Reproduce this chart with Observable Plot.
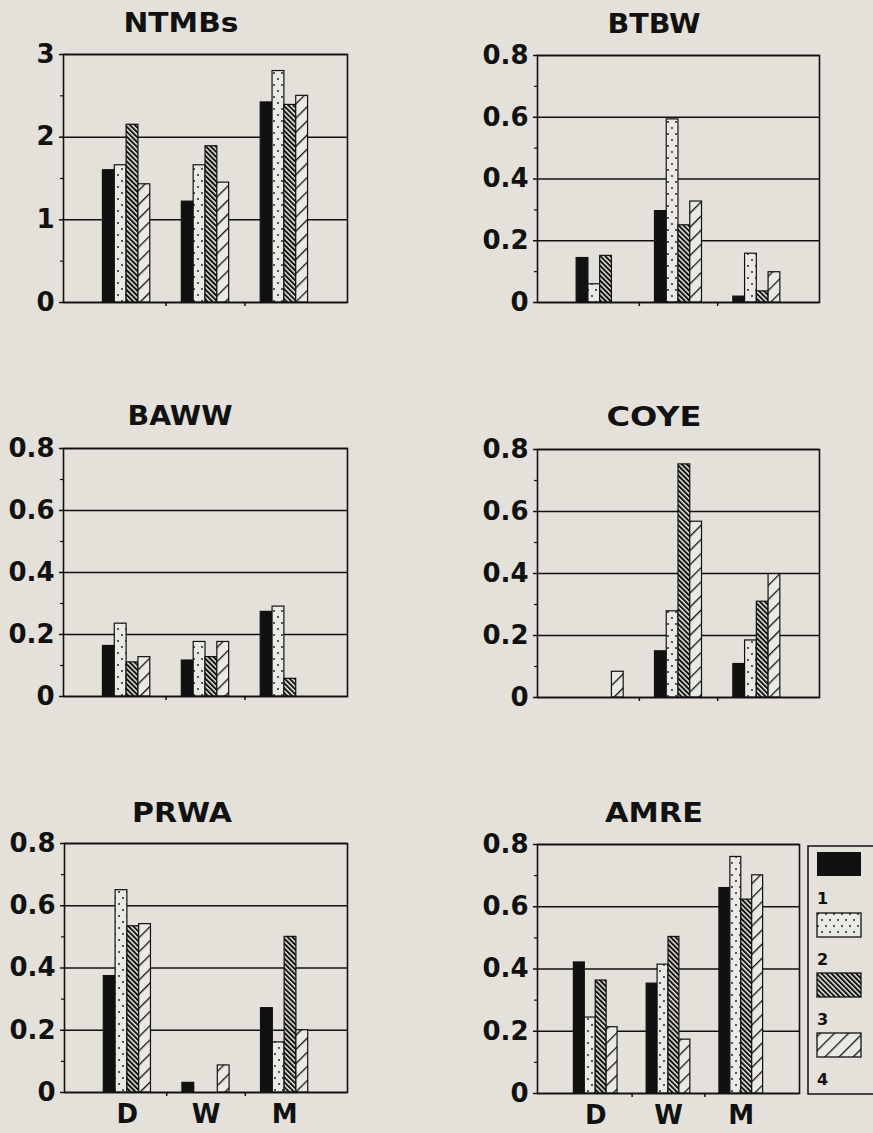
<!DOCTYPE html>
<html><head><meta charset="utf-8">
<script src="https://cdn.jsdelivr.net/npm/d3@7"></script>
<script src="https://cdn.jsdelivr.net/npm/@observablehq/plot@0.6"></script>
<style>
html,body{margin:0;padding:0;background:#e3e1d9;}
#root{position:relative;width:873px;height:1133px;overflow:hidden;background:#e3e1d9;font-family:"DejaVu Sans",sans-serif;}
.panel{position:absolute;}
.panel svg{overflow:visible;}
#overlay{position:absolute;left:0;top:0;}
</style></head><body><div id="root"></div>
<script>
// ---- data ----
const groups = ["D", "W", "M"];
const seriesNames = ["1", "2", "3", "4"];
const species = ["NTMBs", "BTBW", "BAWW", "COYE", "PRWA", "AMRE"];
const yMaxes = [3, 0.8, 0.8, 0.8, 0.8, 0.8];
const majorTicksBig = [0, 1, 2, 3];
const minorTicksBig = [0.5, 1.5, 2.5];
const majorTicksSmall = [0, 0.2, 0.4, 0.6, 0.8];
const minorTicksSmall = [0.1, 0.3, 0.5, 0.7];
// rows: D, W, M ; columns: series 1..4
const NTMBs = [[1.60, 1.66, 2.15, 1.43], [1.22, 1.66, 1.89, 1.45], [2.42, 2.80, 2.39, 2.50]];
const BTBW  = [[0.144, 0.059, 0.151, 0], [0.296, 0.593, 0.250, 0.327], [0.019, 0.158, 0.036, 0.098]];
const BAWW  = [[0.163, 0.235, 0.110, 0.127], [0.116, 0.176, 0.127, 0.176], [0.273, 0.290, 0.057, 0]];
const COYE  = [[0, 0, 0, 0.083], [0.149, 0.278, 0.752, 0.567], [0.108, 0.184, 0.309, 0.398]];
const PRWA  = [[0.374, 0.650, 0.534, 0.541], [0.031, 0, 0, 0.087], [0.271, 0.161, 0.500, 0.200]];
const AMRE  = [[0.421, 0.244, 0.363, 0.213], [0.353, 0.414, 0.503, 0.173], [0.660, 0.760, 0.623, 0.701]];
const valueTables = [NTMBs, BTBW, BAWW, COYE, PRWA, AMRE];

// ---- layout ----
const frames = [
  {left: 63, top: 54, right: 347, bottom: 302},
  {left: 537, top: 55, right: 819, bottom: 302},
  {left: 63, top: 448, right: 347, bottom: 696},
  {left: 537, top: 449, right: 819, bottom: 697},
  {left: 64, top: 843, right: 347, bottom: 1092},
  {left: 537, top: 844, right: 799, bottom: 1093}
];
const titlePos = [
  {x: 181, y: 32, w: 115}, {x: 654, y: 33, w: 93},
  {x: 180, y: 425, w: 105}, {x: 654, y: 425.5, w: 95},
  {x: 182, y: 822, w: 100}, {x: 654, y: 822, w: 98}
];
const INK = "#111";
const LIGHT = "#ebe9e3";
const fills = [INK, "url(#pDots)", "url(#pDense)", "url(#pSparse)"];
const groupSpan = 0.6;
const barW = groupSpan / seriesNames.length;
const mL = 75, mT = 25, mR = 12, mB = 50;

const root = document.getElementById("root");

// pattern defs
const defs = `<svg width="0" height="0" style="position:absolute"><defs>
<pattern id="pDots" patternUnits="userSpaceOnUse" width="8" height="12">
  <rect width="8" height="12" fill="${LIGHT}"/>
  <circle cx="2" cy="2" r="0.9" fill="${INK}"/>
  <circle cx="6" cy="8" r="0.9" fill="${INK}"/>
</pattern>
<pattern id="pDense" patternUnits="userSpaceOnUse" width="3.5" height="10" patternTransform="rotate(-45)">
  <rect width="3.5" height="10" fill="${LIGHT}"/>
  <rect width="2" height="10" fill="${INK}"/>
</pattern>
<pattern id="pSparse" patternUnits="userSpaceOnUse" width="10" height="10" patternTransform="rotate(45)">
  <rect width="10" height="10" fill="${LIGHT}"/>
  <rect width="1.3" height="10" fill="${INK}"/>
</pattern>
</defs></svg>`;
root.insertAdjacentHTML("beforeend", defs);

species.forEach((name, p) => {
  const f = frames[p];
  const table = valueTables[p];
  const rows = [];
  groups.forEach((g, gi) => seriesNames.forEach((s, si) => {
    rows.push({group: g, series: s, gi, si, value: table[gi][si]});
  }));
  const big = yMaxes[p] > 1;
  const major = big ? majorTicksBig : majorTicksSmall;
  const minor = big ? minorTicksBig : minorTicksSmall;
  const bottomRow = p >= 4;
  const marks = [
    Plot.gridY(major, {stroke: INK, strokeOpacity: 1, strokeWidth: 1.5}),
    Plot.rect(rows.filter(d => d.value > 0), {
      x1: d => d.gi - groupSpan / 2 + d.si * barW,
      x2: d => d.gi - groupSpan / 2 + (d.si + 1) * barW,
      y1: 0, y2: "value",
      fill: "series", stroke: INK, strokeWidth: 1.2
    }),
    Plot.frame({stroke: INK, strokeWidth: 1.6}),
    Plot.axisY(major, {tickSize: 4, tickPadding: 5, strokeWidth: 1.5, fontSize: 26, fontWeight: "bold", fill: INK,
      tickFormat: d => String(d)}),
    Plot.axisY(minor, {tickSize: 3, strokeWidth: 1.2, tickFormat: () => ""}),
    Plot.axisX([0.5, 1.5], {tickSize: 4, strokeWidth: 1.5, tickFormat: () => ""})
  ];
  if (bottomRow) {
    marks.push(Plot.axisX([0, 1, 2], {tickSize: 0, tickPadding: 12, fontSize: 26, fontWeight: "bold", fill: INK,
      tickFormat: i => groups[i]}));
  }
  const chart = Plot.plot({
    width: (f.right - f.left) + mL + mR,
    height: (f.bottom - f.top) + mT + mB,
    marginLeft: mL, marginTop: mT, marginRight: mR, marginBottom: mB,
    x: {domain: [-0.8, 2.8], label: null},
    y: {domain: [0, yMaxes[p]], label: null},
    color: {domain: seriesNames, range: fills},
    style: {background: "transparent", color: INK, fontFamily: "DejaVu Sans", fontWeight: "bold", fontSize: "26px"},
    marks
  });
  const div = document.createElement("div");
  div.className = "panel";
  div.style.left = (f.left - mL) + "px";
  div.style.top = (f.top - mT) + "px";
  div.appendChild(chart);
  root.appendChild(div);
});

// overlay: titles + legend
const ns = "http://www.w3.org/2000/svg";
const ov = document.createElementNS(ns, "svg");
ov.setAttribute("id", "overlay");
ov.setAttribute("width", 873);
ov.setAttribute("height", 1133);
function el(tag, attrs, text) {
  const e = document.createElementNS(ns, tag);
  for (const k in attrs) e.setAttribute(k, attrs[k]);
  if (text != null) e.textContent = text;
  ov.appendChild(e);
  return e;
}
species.forEach((name, p) => {
  const t = titlePos[p];
  el("text", {x: t.x, y: t.y, "text-anchor": "middle", "font-family": "DejaVu Sans", "font-weight": "bold",
    "font-size": 27, fill: INK, textLength: t.w, lengthAdjust: "spacingAndGlyphs"}, name);
});
// legend
el("rect", {x: 808, y: 846, width: 70, height: 248, fill: "none", stroke: INK, "stroke-width": 1.5});
const legendTop = [852, 913, 973, 1033];
seriesNames.forEach((s, i) => {
  el("rect", {x: 817, y: legendTop[i], width: 44, height: 24, fill: fills[i], stroke: INK, "stroke-width": i === 0 ? 0 : 1.3});
  el("text", {x: 817, y: legendTop[i] + 52, "font-family": "DejaVu Sans", "font-weight": "bold", "font-size": 16, fill: INK}, s);
});
root.appendChild(ov);
</script></body></html>
